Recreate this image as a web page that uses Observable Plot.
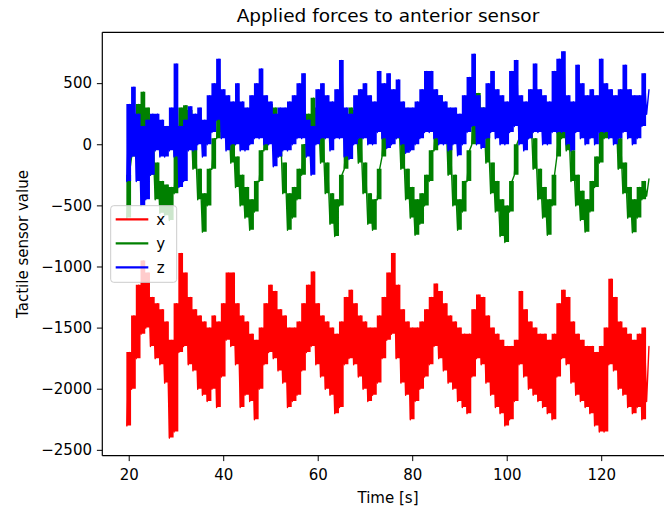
<!DOCTYPE html>
<html><head><meta charset="utf-8">
<script src="https://cdn.jsdelivr.net/npm/d3@7"></script>
<script src="https://cdn.jsdelivr.net/npm/@observablehq/plot@0.6"></script>
<style>body{margin:0;background:#fff} svg{display:block}</style>
</head><body><div id="chart"></div>
<script>
// Sample times (s): each entry holds the low envelope at t and the high envelope at t+0.5
const times = d3.range(19.5, 130, 1);

// x (red)
const xLo = [-2300,-2000,-1750,-1550,-1500,-1650,-1750,-1800,-1950,-2400,
  -2350,-1700,-1650,-1800,-1850,-2000,-2050,-2100,-2000,-2150,
  -1900,-1600,-1650,-1800,-2150,-2050,-2100,-2250,-2000,-1800,
  -1700,-1750,-1850,-1950,-2150,-2100,-2050,-1850,-1700,-1650,
  -1800,-1900,-2000,-2050,-2200,-2150,-1800,-1750,-1800,-1900,
  -2000,-2100,-2050,-1950,-1750,-1600,-1550,-1750,-1950,-2050,
  -2250,-2100,-2000,-1900,-1800,-1650,-1750,-1850,-1950,-2000,
  -2100,-2150,-2200,-1900,-1750,-1800,-1950,-2050,-2150,-2200,
  -2300,-2250,-2100,-1800,-1900,-2000,-2050,-2100,-2150,-2200,
  -2250,-1900,-1750,-1800,-1950,-2050,-2100,-2150,-2200,-2300,
  -2350,-2350,-1800,-1850,-2000,-2050,-2150,-2200,-2150,-2250,-2100];
const xHi = [-1700,-1400,-1150,-950,-1050,-1250,-1300,-1350,-1450,-1600,
  -1300,-890,-1050,-1250,-1350,-1400,-1450,-1500,-1400,-1450,
  -1300,-1050,-1050,-1300,-1400,-1450,-1550,-1600,-1500,-1300,
  -1150,-1200,-1350,-1400,-1500,-1500,-1450,-1300,-1150,-1040,
  -1300,-1400,-1450,-1500,-1550,-1450,-1250,-1190,-1300,-1400,
  -1450,-1500,-1500,-1400,-1250,-1050,-890,-1150,-1350,-1450,
  -1500,-1500,-1450,-1350,-1250,-1140,-1200,-1300,-1400,-1450,
  -1500,-1550,-1550,-1350,-1230,-1250,-1400,-1500,-1550,-1600,
  -1650,-1650,-1600,-1200,-1350,-1450,-1500,-1550,-1550,-1600,
  -1550,-1300,-1190,-1250,-1450,-1550,-1600,-1650,-1650,-1700,
  -1650,-1500,-1100,-1250,-1450,-1500,-1550,-1600,-1550,-1500,-1650];

// y (green)
const yLo = [-600,-100,50,100,50,-250,-450,-560,-580,-620,
  -400,100,120,50,-200,-450,-715,-500,-200,50,
  100,50,-150,-350,-500,-600,-700,-550,-300,-50,
  100,80,-100,-400,-700,-600,-450,-250,0,120,
  50,-150,-400,-650,-750,-500,-200,80,50,-150,
  -400,-650,-700,-450,-100,100,120,50,-200,-450,
  -600,-740,-650,-500,-300,-50,100,50,-250,-500,
  -700,-550,-300,0,120,50,-150,-400,-550,-750,
  -800,-550,-250,50,100,50,-200,-450,-600,-740,
  -500,-100,50,-50,-300,-500,-620,-715,-550,-350,
  -150,50,120,50,-200,-400,-600,-720,-600,-450,-420];
const yHi = [-250,250,330,430,300,50,-150,-300,-330,-350,
  -50,300,320,280,50,-200,-400,-200,50,280,
  330,280,100,-100,-250,-350,-450,-300,-50,200,
  330,300,150,-150,-400,-350,-200,0,250,380,
  300,100,-150,-400,-450,-250,50,300,280,100,
  -150,-400,-450,-200,150,330,430,300,50,-200,
  -350,-450,-400,-250,-50,200,400,280,0,-250,
  -450,-300,-50,250,420,300,100,-150,-300,-450,
  -500,-300,0,280,320,280,50,-200,-350,-450,
  -250,150,300,200,-50,-250,-380,-450,-300,-100,
  100,300,430,300,50,-150,-350,-450,-350,-300,-280];

// z (blue)
const zLo = [-300,-100,-300,-500,-450,-250,-50,-100,-100,-50,
  -100,-350,-300,-50,-50,0,-100,0,100,200,
  50,-50,0,0,-50,-50,0,50,50,0,
  0,-180,-100,-50,-50,0,50,50,-100,-250,
  0,50,50,-50,50,50,-100,-120,0,50,
  50,0,0,100,50,-30,0,50,0,-70,
  -50,0,50,100,100,50,0,0,-50,0,
  -90,0,100,150,0,-30,50,100,50,0,
  0,100,150,0,-50,50,100,100,0,0,
  100,100,100,0,-50,100,50,0,50,0,
  100,100,50,0,50,100,50,0,50,150,250];
const zHi = [330,470,250,150,200,250,250,200,150,300,
  660,150,200,310,250,300,200,400,500,700,
  450,400,350,500,350,300,400,500,620,400,
  350,250,300,300,350,400,500,580,200,150,
  450,500,400,350,450,690,300,250,400,450,
  500,400,350,600,500,580,450,530,350,300,
  300,350,450,600,600,450,400,350,300,300,
  250,400,550,740,400,300,500,600,450,400,
  350,600,690,400,350,450,660,450,400,350,
  600,700,760,400,350,650,500,400,450,400,
  700,500,450,400,450,650,450,400,400,580,450];

const seriesNames = ["x", "y", "z"];
const seriesColors = ["#ff0000", "#008000", "#0000ff"];
const xTicks = [20, 40, 60, 80, 100, 120];
const yTicks = [-2500, -2000, -1500, -1000, -500, 0, 500];
const titleText = "Applied forces to anterior sensor";
const xLabel = "Time [s]";
const yLabel = "Tactile sensor value";

function zig(lo, hi, name) {
  const out = [];
  times.forEach((t, i) => {
    out.push({t, v: lo[i], s: name});
    out.push({t: t + 0.5, v: hi[i], s: name});
  });
  return out;
}
function band(lo, hi, name) {
  return times.map((t, i) => ({t, lo: lo[i], hi: hi[i], s: name}));
}
const los = [xLo, yLo, zLo], his = [xHi, yHi, zHi];
const seriesMarks = seriesNames.flatMap((name, k) => [
  Plot.areaY(band(los[k], his[k], name), {x: "t", y1: "lo", y2: "hi", fill: "s", curve: "step-after"}),
  Plot.lineY(zig(los[k], his[k], name), {x: "t", y: "v", stroke: "s", strokeWidth: 1.4, curve: "linear"})
]);

const plot = Plot.plot({
  width: 664, height: 512,
  marginLeft: 102.3, marginRight: 0, marginTop: 32.3, marginBottom: 56.3,
  style: {fontFamily: "'DejaVu Sans', sans-serif", fontSize: "15px", background: "#fff", color: "#000", overflow: "hidden"},
  x: {domain: [14.41, 133.29]},
  y: {domain: [-2548, 916]},
  color: {domain: seriesNames, range: seriesColors},
  marks: [
    ...seriesMarks,
    Plot.axisX({ticks: xTicks, tickSize: 5.4, tickPadding: 8, tickFormat: d3.format("d"), label: null}),
    Plot.axisY({ticks: yTicks, tickSize: 5.4, tickPadding: 5.4, tickFormat: d3.format("d"), label: null})
  ]
});
document.getElementById("chart").appendChild(plot);

const svg = d3.select(plot);
const xs = plot.scale("x"), ys = plot.scale("y");
const [x0, x1] = xs.range, [y0, y1] = ys.range; // y0 bottom, y1 top
const axisCenter = 388;
const spines = svg.append("g").attr("stroke", "#000").attr("stroke-width", 1.2).attr("fill", "none");
spines.append("line").attr("x1", x0).attr("x2", x0).attr("y1", y1).attr("y2", y0);
spines.append("line").attr("x1", x0).attr("x2", x1 + 20).attr("y1", y1).attr("y2", y1);
spines.append("line").attr("x1", x0).attr("x2", x1 + 20).attr("y1", y0).attr("y2", y0);

svg.append("text").attr("x", axisCenter).attr("y", 21.7).attr("text-anchor", "middle")
  .attr("font-size", 18.5).attr("fill", "#000").text(titleText);
svg.append("text").attr("x", axisCenter).attr("y", 503.3).attr("text-anchor", "middle")
  .attr("font-size", 15).attr("fill", "#000").text(xLabel);
svg.append("text").attr("transform", `translate(27.5,${(y0 + y1) / 2}) rotate(-90)`)
  .attr("text-anchor", "middle").attr("font-size", 15).attr("fill", "#000").text(yLabel);

// legend
const lg = svg.append("g");
lg.append("rect").attr("x", 110.7).attr("y", 205.7).attr("width", 66).attr("height", 76.6)
  .attr("rx", 3).attr("fill", "#fff").attr("fill-opacity", 0.8).attr("stroke", "#cccccc").attr("stroke-width", 1);
seriesNames.forEach((name, i) => {
  const yy = 219.3 + i * 24;
  lg.append("line").attr("x1", 115.7).attr("x2", 148.3).attr("y1", yy).attr("y2", yy)
    .attr("stroke", seriesColors[i]).attr("stroke-width", 2.3);
  lg.append("text").attr("x", 160.7).attr("y", yy).attr("dy", "0.35em").attr("font-size", 15)
    .attr("fill", "#000").text(name);
});
</script>
</body></html>
